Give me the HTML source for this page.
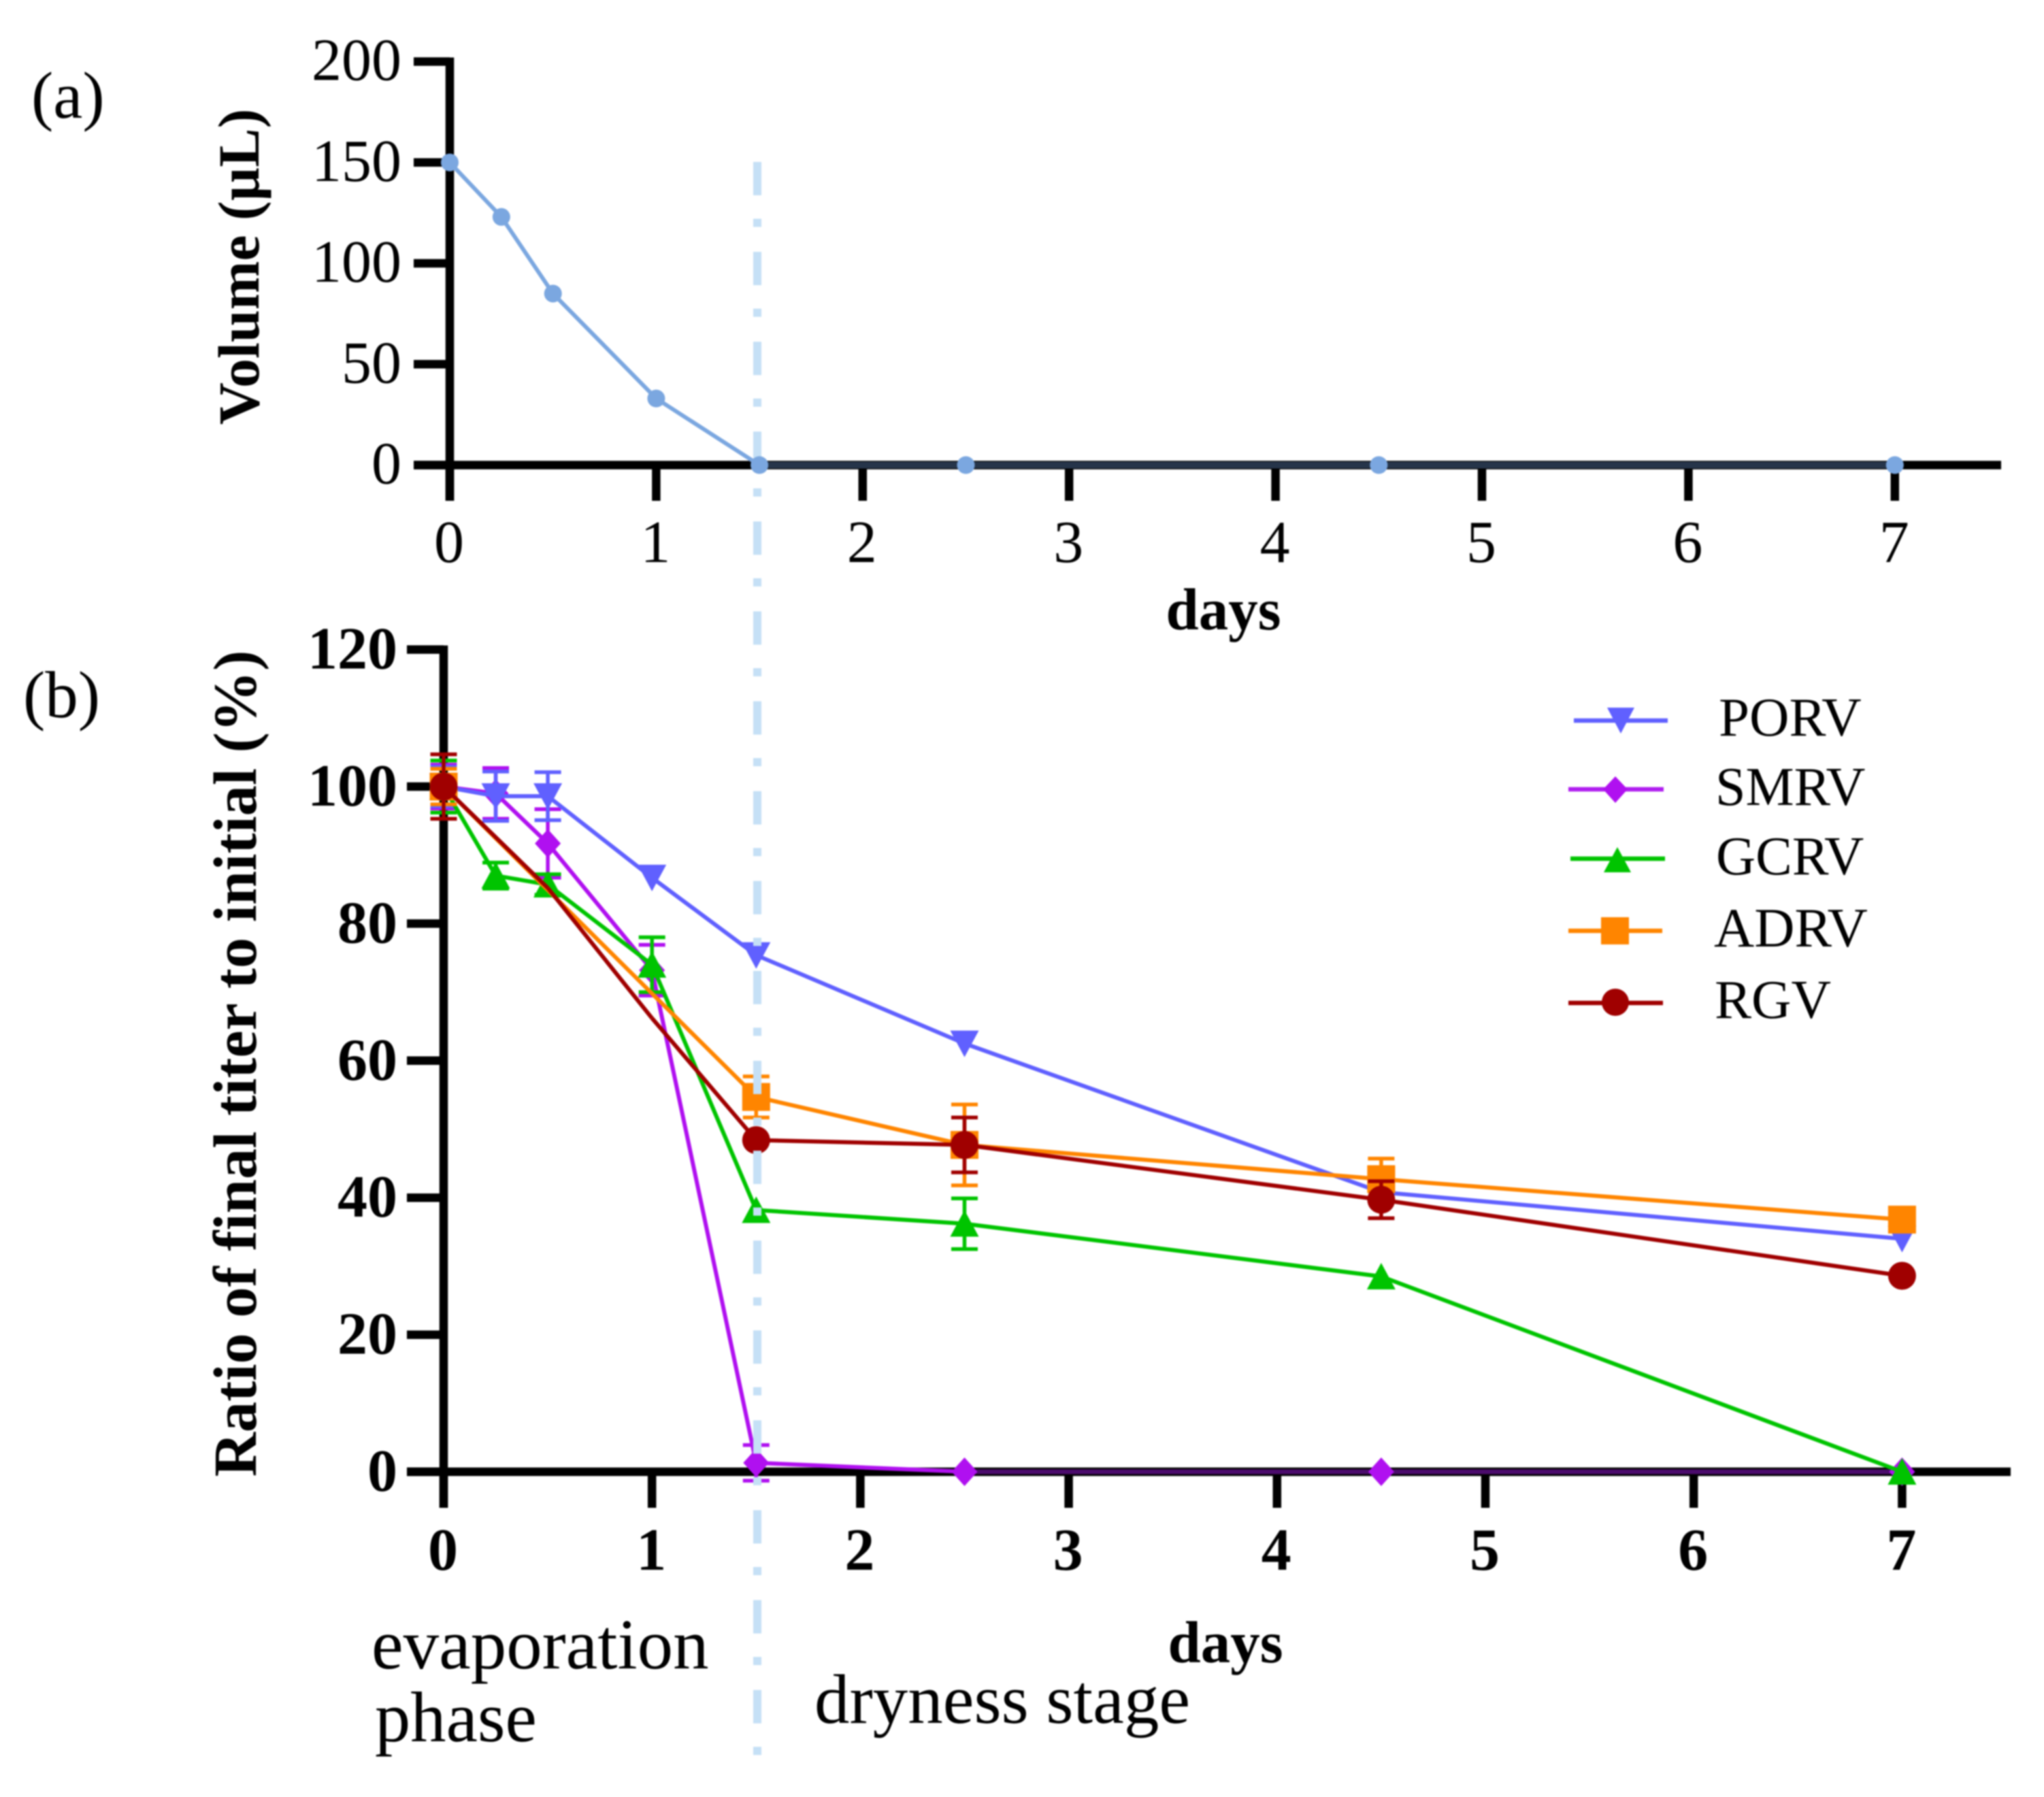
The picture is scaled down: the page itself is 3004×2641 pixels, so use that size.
<!DOCTYPE html>
<html lang="en">
<head>
<meta charset="utf-8">
<title>Volume and titer ratio over days</title>
<style>
html,body{margin:0;padding:0;background:#fff;}
#figure{display:block;width:3004px;height:2641px;filter:blur(1px);}
text{font-family:"Liberation Serif",serif;fill:#000;}
.b{font-weight:bold;}
</style>
</head>
<body>
<svg id="figure" xmlns="http://www.w3.org/2000/svg" width="3004" height="2641" viewBox="0 0 3004 2641">
  <rect width="3004" height="2641" fill="#fff"/>
  <text x="46" y="173" font-size="97">(a)</text>
  <text x="34" y="1054" font-size="97">(b)</text>
  <text class="b" transform="translate(380,392) rotate(-90)" text-anchor="middle" font-size="86">Volume (µL)</text>
  <text class="b" transform="translate(376,1563) rotate(-90)" text-anchor="middle" font-size="90.5">Ratio of final titer to initial (%)</text>
  <text class="b" x="1798" y="925" text-anchor="middle" font-size="87">days</text>
  <text class="b" x="1801" y="2443" text-anchor="middle" font-size="87">days</text>
  <text x="546" y="2452" font-size="105">evaporation</text>
  <text x="551" y="2559" font-size="104.5">phase</text>
  <text x="1197" y="2532" font-size="103">dryness stage</text>
  <g id="axes"></g>
  <g id="titer-series"></g>
  <line x1="1113" y1="238" x2="1113" y2="2581" stroke="#c5e0f6" stroke-width="12" stroke-dasharray="49 34.5 12 36.6"/>
  <g id="volume-series"></g>
  <g id="legend">
    <g>
      <line x1="2313" y1="1059" x2="2451" y2="1059" stroke="#6060ff" stroke-width="6.5"/>
      <polygon points="2362,1040 2402,1040 2382,1078" fill="#6060ff"/>
      <text x="2526" y="1081" font-size="81">PORV</text>
    </g>
    <g>
      <line x1="2305" y1="1160" x2="2445" y2="1160" stroke="#b01ef0" stroke-width="6.5"/>
      <polygon points="2374,1141 2392,1160 2374,1180 2356,1160" fill="#b010f0"/>
      <text x="2521" y="1183" font-size="80">SMRV</text>
    </g>
    <g>
      <line x1="2308" y1="1262" x2="2447" y2="1262" stroke="#00c400" stroke-width="6.5"/>
      <polygon points="2377,1245 2397,1282 2357,1282" fill="#00c400"/>
      <text x="2522" y="1285" font-size="80.5">GCRV</text>
    </g>
    <g>
      <line x1="2305" y1="1368" x2="2443" y2="1368" stroke="#ff8500" stroke-width="6.5"/>
      <rect x="2353" y="1348" width="41" height="40" fill="#ff8500"/>
      <text x="2519" y="1391" font-size="82">ADRV</text>
    </g>
    <g>
      <line x1="2305" y1="1474" x2="2444" y2="1474" stroke="#a00000" stroke-width="6.5"/>
      <circle cx="2374" cy="1473" r="20" fill="#a00000"/>
      <text x="2520" y="1496" font-size="81">RGV</text>
    </g>
  </g>
</svg>
<script>
const dayTicks = [0, 1, 2, 3, 4, 5, 6, 7];
const volumeTicks = [0, 50, 100, 150, 200];
const titerTicks = [0, 20, 40, 60, 80, 100, 120];

const volumeDays = [0, 0.25, 0.5, 1, 1.5, 2.5, 4.5, 7];
const volumeValues = [150, 123, 85, 33, 0, 0, 0, 0];

const porvDays = [0, 0.25, 0.5, 1, 1.5, 2.5, 4.5, 7];
const porvValues = [100, 98.6, 98.6, 86.7, 75.4, 62.5, 40.8, 34.0];
const porvErrors = [2.9, 3.6, 3.5, 0, 0, 0, 0, 0];

const smrvDays = [0, 0.25, 0.5, 1, 1.5, 2.5, 4.5, 7];
const smrvValues = [100, 99, 91.7, 73.2, 1.3, 0, 0, 0];
const smrvErrors = [3.2, 3.7, 5, 3.7, 2.6, 0, 0, 0];

const gcrvDays = [0, 0.25, 0.5, 1, 1.5, 2.5, 4.5, 7];
const gcrvValues = [100, 87, 85.7, 74, 38.2, 36.2, 28.5, 0];
const gcrvErrors = [3.8, 1.9, 1.5, 4, 0, 3.7, 0, 0];

const adrvDays = [0, 1.5, 2.5, 4.5, 7];
const adrvValues = [100, 54.7, 47.7, 42.7, 36.8];
const adrvErrors = [2.6, 3, 5.9, 3, 0];

const rgvDays = [0, 0.5, 1, 1.5, 2.5, 4.5, 7];
const rgvValues = [100, 85.2, 66.2, 48.4, 47.7, 39.7, 28.6];
const rgvErrors = [4.7, 0, 0, 0, 4, 2.7, 0];
const rgvMarked = [true, false, false, true, true, true, true];

const titerSeries = [
  {name: 'smrv', days: smrvDays, values: smrvValues, errors: smrvErrors, color: '#b010f0', floorColor: '#4b0b6b', shape: 'diamond'},
  {name: 'porv', days: porvDays, values: porvValues, errors: porvErrors, color: '#6060ff', floorColor: '#6060ff', shape: 'down'},
  {name: 'gcrv', days: gcrvDays, values: gcrvValues, errors: gcrvErrors, color: '#00c400', floorColor: '#00c400', shape: 'up'},
  {name: 'adrv', days: adrvDays, values: adrvValues, errors: adrvErrors, color: '#ff8500', floorColor: '#ff8500', shape: 'square'},
  {name: 'rgv', days: rgvDays, values: rgvValues, errors: rgvErrors, marked: rgvMarked, color: '#a00000', floorColor: '#a00000', shape: 'circle'}
];

const NS = 'http://www.w3.org/2000/svg';
const xVolume = d => 661 + 303.4 * d;
const yVolume = v => 683.5 - 2.965 * v;
const xTiter = d => 652 + 306.2 * d;
const yTiter = v => 2163 - 10.07 * v;

function make(parent, tag, name, attrs, content) {
  const el = document.createElementNS(NS, tag);
  
  
  for (const k in attrs) el.setAttribute(k, attrs[k]);
  if (content !== undefined) el.textContent = content;
  parent.appendChild(el);
  return el;
}

function drawAxes(parent, prefix, o) {
  const common = {stroke: '#000', 'stroke-width': 12.5};
  make(parent, 'line', prefix + '-x-axis-line', Object.assign({x1: o.tickLeft, y1: o.y(0), x2: o.axisRight, y2: o.y(0)}, common));
  make(parent, 'line', prefix + '-y-axis-line', Object.assign({x1: o.x(0), y1: o.y(o.yTicks[o.yTicks.length - 1]) - 6, x2: o.x(0), y2: o.tickBottom}, common));
  o.yTicks.forEach(t => {
    make(parent, 'line', prefix + '-y-tick-' + t, Object.assign({x1: o.tickLeft, y1: o.y(t), x2: o.x(0), y2: o.y(t)}, common));
    const label = make(parent, 'text', prefix + '-y-tick-label-' + t, {x: o.labelRight, y: o.y(t) + o.yLabelShift, 'text-anchor': 'end', 'font-size': o.fontSize}, String(t));
    if (o.bold) label.setAttribute('class', 'b');
  });
  dayTicks.forEach(t => {
    make(parent, 'line', prefix + '-x-tick-' + t, Object.assign({x1: o.x(t), y1: o.y(0), x2: o.x(t), y2: o.tickBottom}, common));
    const label = make(parent, 'text', prefix + '-x-tick-label-' + t, {x: o.x(t) - 1, y: o.xLabelY, 'text-anchor': 'middle', 'font-size': o.fontSize}, String(t));
    if (o.bold) label.setAttribute('class', 'b');
  });
}

function drawMarker(parent, name, shape, cx, cy, color) {
  if (shape === 'circle') {
    make(parent, 'circle', name, {cx: cx, cy: cy, r: 20.5, fill: color});
  } else if (shape === 'square') {
    make(parent, 'rect', name, {x: cx - 20.5, y: cy - 20.5, width: 41, height: 41, fill: color});
  } else if (shape === 'diamond') {
    make(parent, 'polygon', name, {points: [cx, cy - 21, cx + 19, cy, cx, cy + 21, cx - 19, cy].join(' '), fill: color});
  } else if (shape === 'up') {
    make(parent, 'polygon', name, {points: [cx, cy - 20, cx + 21, cy + 19, cx - 21, cy + 19].join(' '), fill: color});
  } else {
    make(parent, 'polygon', name, {points: [cx - 21, cy - 19, cx + 21, cy - 19, cx, cy + 20].join(' '), fill: color});
  }
}

const axesGroup = document.getElementById('axes');
drawAxes(axesGroup, 'volume', {x: xVolume, y: yVolume, yTicks: volumeTicks, tickLeft: 608, axisRight: 2941, tickBottom: 736, labelRight: 590, yLabelShift: 27, xLabelY: 826, fontSize: 88, bold: false});
drawAxes(axesGroup, 'titer', {x: xTiter, y: yTiter, yTicks: titerTicks, tickLeft: 598, axisRight: 2955, tickBottom: 2216, labelRight: 584, yLabelShift: 28, xLabelY: 2307, fontSize: 88, bold: true});

const titerGroup = document.getElementById('titer-series');
titerSeries.forEach(s => {
  const g = make(titerGroup, 'g', 'series-' + s.name, {});
  s.days.forEach((d, i) => {
    if (i === 0) return;
    const onFloor = s.values[i] === 0 && s.values[i - 1] === 0;
    make(g, 'line', s.name + '-segment-' + i, {
      x1: xTiter(s.days[i - 1]), y1: yTiter(s.values[i - 1]),
      x2: xTiter(d), y2: yTiter(s.values[i]),
      stroke: onFloor ? s.floorColor : s.color, 'stroke-width': onFloor ? 7 : 6
    });
  });
  s.days.forEach((d, i) => {
    const e = s.errors[i];
    if (!e) return;
    const cx = xTiter(d);
    const top = yTiter(s.values[i] + e);
    const bottom = yTiter(s.values[i] - e);
    make(g, 'line', s.name + '-error-stem-' + i, {x1: cx, y1: top, x2: cx, y2: bottom, stroke: s.color, 'stroke-width': 5.5});
    make(g, 'line', s.name + '-error-cap-top-' + i, {x1: cx - 19.5, y1: top, x2: cx + 19.5, y2: top, stroke: s.color, 'stroke-width': 5.5});
    make(g, 'line', s.name + '-error-cap-bottom-' + i, {x1: cx - 19.5, y1: bottom, x2: cx + 19.5, y2: bottom, stroke: s.color, 'stroke-width': 5.5});
  });
  s.days.forEach((d, i) => {
    if (s.marked && !s.marked[i]) return;
    drawMarker(g, s.name + '-point-' + i, s.shape, xTiter(d), yTiter(s.values[i]), s.color);
  });
});

const volumeGroup = document.getElementById('volume-series');
volumeDays.forEach((d, i) => {
  if (i === 0) return;
  const onFloor = volumeValues[i] === 0 && volumeValues[i - 1] === 0;
  make(volumeGroup, 'line', 'volume-segment-' + i, {
    x1: xVolume(volumeDays[i - 1]), y1: yVolume(volumeValues[i - 1]),
    x2: xVolume(d), y2: yVolume(volumeValues[i]),
    stroke: onFloor ? '#26354a' : '#7ba7e0', 'stroke-width': onFloor ? 10 : 6
  });
});
volumeDays.forEach((d, i) => {
  make(volumeGroup, 'circle', 'volume-point-' + i, {cx: xVolume(d), cy: yVolume(volumeValues[i]), r: 13, fill: '#7ba7e0'});
});
</script>
</body>
</html>
